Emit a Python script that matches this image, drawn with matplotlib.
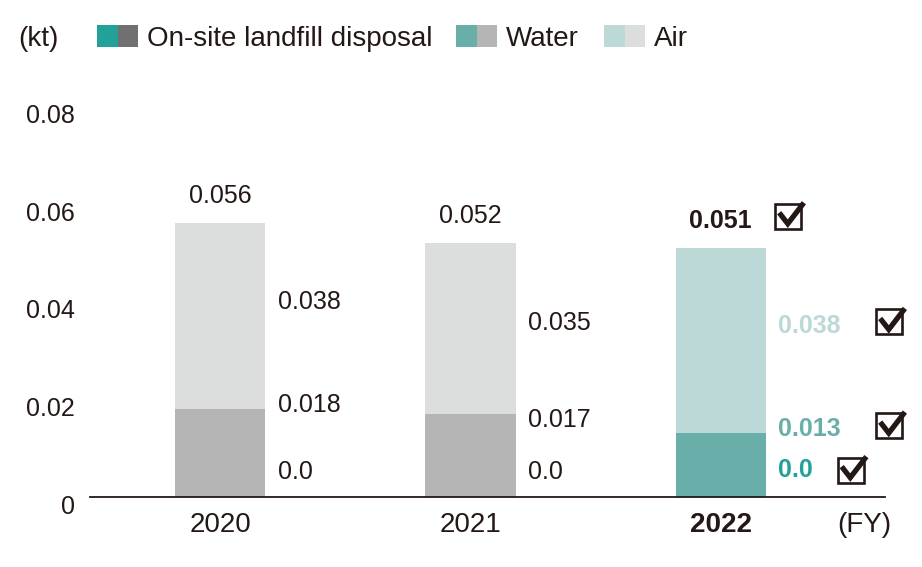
import matplotlib.pyplot as plt
from matplotlib.patches import Rectangle
from matplotlib.lines import Line2D
from matplotlib.transforms import ScaledTranslation

# data (kt)
years = ["2020", "2021", "2022"]
landfill = [0.0, 0.0, 0.0]
water = [0.018, 0.017, 0.013]
air = [0.038, 0.035, 0.038]
totals = [0.056, 0.052, 0.051]
landfill_labels = ["0.0", "0.0", "0.0"]
water_labels = ["0.018", "0.017", "0.013"]
air_labels = ["0.038", "0.035", "0.038"]
total_labels = ["0.056", "0.052", "0.051"]
yticks = [0, 0.02, 0.04, 0.06, 0.08]
ytick_labels = ["0", "0.02", "0.04", "0.06", "0.08"]

# colors: [past years, current year]
c_landfill = ["#717071", "#22a09a"]
c_water = ["#b4b5b4", "#6aaeaa"]
c_air = ["#dcdddd", "#bcd8d7"]
txt = "#231815"

plt.rcParams["font.family"] = ["Liberation Sans", "DejaVu Sans"]
fs = 18      # values, y ticks
fs_big = 20  # years, legend

fig = plt.figure(figsize=(9.22, 5.67), dpi=100)
ax = fig.add_axes([90 / 922, 70 / 567, 795 / 922, 391 / 567])

x = list(range(len(years)))
w = 0.36
cur = len(years) - 1
for i in x:
    k = 1 if i == cur else 0
    ax.bar(i, landfill[i], w, color=c_landfill[k], linewidth=0)
    ax.bar(i, water[i], w, bottom=landfill[i], color=c_water[k], linewidth=0)
    ax.bar(i, air[i], w, bottom=landfill[i] + water[i], color=c_air[k], linewidth=0)

ax.set_xlim(-0.52, 2.656)
ax.set_ylim(0, 0.08)
for s in ["top", "right", "left"]:
    ax.spines[s].set_visible(False)
ax.spines["bottom"].set_color(txt)
ax.spines["bottom"].set_linewidth(1.3)
ax.set_xticks([])
ax.set_yticks([])

# y tick labels, sitting a little below their gridline level
ytr = ax.get_yaxis_transform()
for v, lab in zip(yticks, ytick_labels):
    ax.annotate(lab, (0, v), xycoords=ytr, xytext=(-15, -10), textcoords="offset pixels",
                ha="right", va="center", fontsize=fs, color=txt)

# x labels
xtr = ax.get_xaxis_transform()
for i in x:
    ax.annotate(years[i], (i, 0), xycoords=xtr, xytext=(0, -28), textcoords="offset pixels",
                ha="center", va="center", fontsize=fs_big, color=txt,
                fontweight="bold" if i == cur else "normal")
ax.annotate("(FY)", (1, 0), xycoords="axes fraction", xytext=(-21, -28), textcoords="offset pixels",
            ha="center", va="center", fontsize=fs_big, color=txt)

# value labels
air_y = [0.0399, 0.0356, 0.0350]
water_y = [0.0188, 0.0157, 0.0139]
landfill_y = [0.0051, 0.0051, 0.0055]
tx = w / 2 + 0.05
for i in x:
    if i == cur:
        ca, cw, cl = c_air[1], c_water[1], c_landfill[1]
        wt = "bold"
    else:
        ca = cw = cl = txt
        wt = "normal"
    ax.text(i + tx, air_y[i], air_labels[i], ha="left", va="center", fontsize=fs, color=ca, fontweight=wt)
    ax.text(i + tx, water_y[i], water_labels[i], ha="left", va="center", fontsize=fs, color=cw, fontweight=wt)
    ax.text(i + tx, landfill_y[i], landfill_labels[i], ha="left", va="center", fontsize=fs, color=cl, fontweight=wt)
    ax.annotate(total_labels[i], (i, totals[i]), xytext=(0, 27), textcoords="offset pixels",
                ha="center", va="center", fontsize=fs, color=txt, fontweight=wt)


def check(xd, yd, dx, dy):
    # boxed tick, drawn in pixels around a data anchor (+dx, +dy px)
    tr = fig.dpi_scale_trans + ScaledTranslation(xd, yd, ax.transData)
    bw, bh = 26, 25
    bx, by = dx - bw / 2, dy - bh / 2
    box = Rectangle((bx / 100, by / 100), bw / 100, bh / 100, fill=False, edgecolor=txt,
                    linewidth=1.9, transform=tr, clip_on=False, joinstyle="miter")
    ax.add_patch(box)
    px = [0.15, 0.48, 1.1]
    py = [0.64, 0.2, 1.04]
    tick = Line2D([(bx + p * bw) / 100 for p in px], [(by + q * bh) / 100 for q in py],
                  color=txt, linewidth=3.8, transform=tr, clip_on=False,
                  solid_joinstyle="miter", solid_capstyle="butt")
    ax.add_line(tick)


# check marks for the current year
check(cur, totals[cur], 67.5, 31.5)
check(cur, air_y[cur], 168.5, 4)
check(cur, water_y[cur], 168.5, 3.5)
check(cur, landfill_y[cur], 130, 0)

ax.set_xlim(-0.52, 2.656)
ax.set_ylim(0, 0.08)

# legend (paired swatches)
fig.text(18 / 922, 1 - 39 / 567, "(kt)", ha="left", va="center", fontsize=fs_big, color=txt)
legend_items = [("On-site landfill disposal", c_landfill, 97), ("Water", c_water, 456), ("Air", c_air, 604)]
for name, cols, x0 in legend_items:
    fig.patches.append(Rectangle((x0 / 922, 1 - 47 / 567), 21 / 922, 22 / 567,
                                 transform=fig.transFigure, color=cols[1], linewidth=0))
    fig.patches.append(Rectangle(((x0 + 21) / 922, 1 - 47 / 567), 20 / 922, 22 / 567,
                                 transform=fig.transFigure, color=cols[0], linewidth=0))
    fig.text((x0 + 50) / 922, 1 - 39 / 567, name, ha="left", va="center", fontsize=fs_big, color=txt)

fig.savefig("out.png", dpi=100)
